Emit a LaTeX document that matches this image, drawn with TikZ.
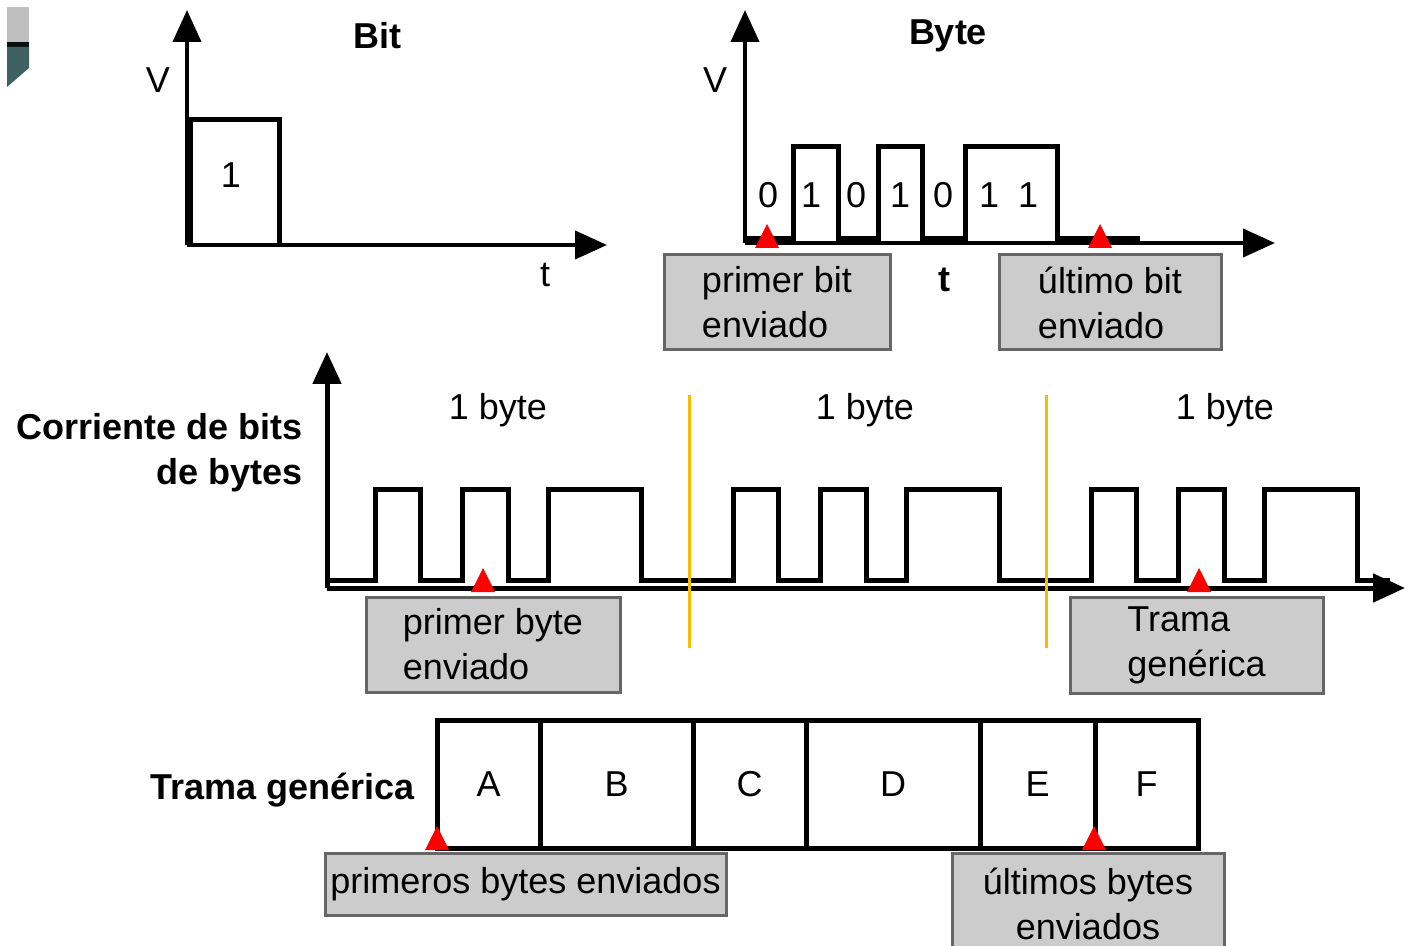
\documentclass[tikz,border=0pt]{standalone}
\usepackage{fontspec}
\setmainfont{Liberation Sans}
\usetikzlibrary{arrows.meta}

\definecolor{amarillo}{RGB}{245,190,0}
\definecolor{ventana}{RGB}{63,96,96}

\tikzset{
  eje/.style={line width=2pt,-{Triangle[length=16pt,width=14pt]}},
  onda/.style={line width=2.5pt,line join=miter},
  caja/.style={rectangle,draw=black!60,fill=black!20,line width=1.5pt,align=left,inner sep=0pt},
  celda/.style={rectangle,draw=black,line width=2.5pt,minimum height=64pt,inner sep=0pt},
  titulo/.style={font=\fontsize{18}{22.5}\selectfont\bfseries,inner sep=0pt},
  separador/.style={draw=amarillo,line width=1.5pt}
}

\begin{document}
\begin{tikzpicture}[x=0.5pt,y=-0.5pt,font=\fontsize{18}{22.5}\selectfont]
\useasboundingbox (0,0) rectangle (1407,946);

% trozo de ventana en la esquina
\fill[black!25] (7,7) rectangle (29,42);
\fill[black!85!ventana] (7,42) rectangle (29,47);
\fill[ventana] (7,47) -- (29,47) -- (29,68) -- (7,87) -- cycle;

% Bit
\coordinate (bitO) at (187,245);
\coordinate (bitV) at (187,10);
\coordinate (bitT) at (607,245);
\draw[eje] (bitO) -- (bitV);
\draw[eje] (bitO) -- (bitT);
\draw[onda] (190,245) -- (190,120) -- (279,120) -- (279,245);
\node (bitEtiqV) at (158,80) {V};
\node (bitEtiqT) at (545,275) {t};
\node[titulo] (bitTitulo) at (377,36) {Bit};
\node (bitUno) at (231,175) {1};

% Byte
\coordinate (byteO) at (745,243);
\coordinate (byteV) at (745,10);
\coordinate (byteT) at (1275,243);
\draw[eje] (byteO) -- (byteV);
\draw[eje] (byteO) -- (byteT);
\draw[onda] (745,239) -- (793,239) -- (793,147) -- (838,147) -- (838,239)
  -- (878,239) -- (878,147) -- (922,147) -- (922,239) -- (965,239)
  -- (965,147) -- (1057,147) -- (1057,239) -- (1140,239);
\foreach \b/\x [count=\i] in {0/768,1/811,0/856,1/900,0/943,1/989,1/1028}
    \node (bit\i) at (\x,195) {\b};
\node (byteEtiqV) at (715,80) {V};
\node[titulo] (byteEtiqT) at (944,280) {t};
\node[titulo] (byteTitulo) at (948,36) {Byte};

\node[caja,minimum width=113pt,minimum height=47.5pt] (primerBit) at (777,302.5) {primer bit\\enviado};
\node[caja,minimum width=111pt,minimum height=47.5pt] (ultimoBit) at (1110,302.5) {último bit\\enviado};

% corriente de bits
\coordinate (flujoO) at (327,588);
\coordinate (flujoV) at (327,352);
\coordinate (flujoT) at (1405,588);
\draw[eje,line width=2.5pt] (flujoO) -- (flujoV);
\draw[eje,line width=2.5pt] (flujoO) -- (flujoT);
\draw[onda] (327,580) \foreach \o in {0,358,716} {
    -- (375+\o,580) -- (375+\o,489) -- (420+\o,489) -- (420+\o,580)
    -- (462+\o,580) -- (462+\o,489) -- (508+\o,489) -- (508+\o,580)
    -- (548+\o,580) -- (548+\o,489) -- (641+\o,489) -- (641+\o,580)
  } -- (1390,580);
\draw[separador] (689,395) -- (689,648);
\draw[separador] (1046,395) -- (1046,648);
\foreach \x [count=\i] in {498,865,1225}
    \node (unByte\i) at (\x,410) {1 byte};
\node[titulo,align=right,anchor=east] (corriente) at (303,453) {Corriente de bits\\de bytes};

\node[caja,minimum width=127pt,minimum height=47.5pt] (primerByte) at (493,644.5) {primer byte\\enviado};
\node[caja,minimum width=126.5pt,minimum height=48pt] (tramaCaja) at (1196.5,645) {Trama\\genérica};

% trama
\foreach \l/\x/\w in {A/488.5/51.5,B/616.5/76.5,C/749.5/56.5,D/893/87,E/1037.5/57.5,F/1146.5/51.5}
    \node[celda,minimum width=\w*1pt] (celda\l) at (\x,784) {\l};
\node[titulo,anchor=east] (trama) at (415,790) {Trama genérica};

\node[caja,minimum width=200.5pt,minimum height=31pt] (primeros) at (525.5,884) {primeros bytes enviados};
\node[caja,align=center,minimum width=136pt,minimum height=51pt] (ultimos) at (1088,904) {últimos bytes\\enviados};

% marcas rojas
\foreach \x/\y in {767/248,1100/248,483/592,1199/592,437/850,1094/850}
    \fill[red] (\x,\y) -- ++(-12,0) -- ++(12,-24) -- ++(12,24) -- cycle;

\end{tikzpicture}
\end{document}
